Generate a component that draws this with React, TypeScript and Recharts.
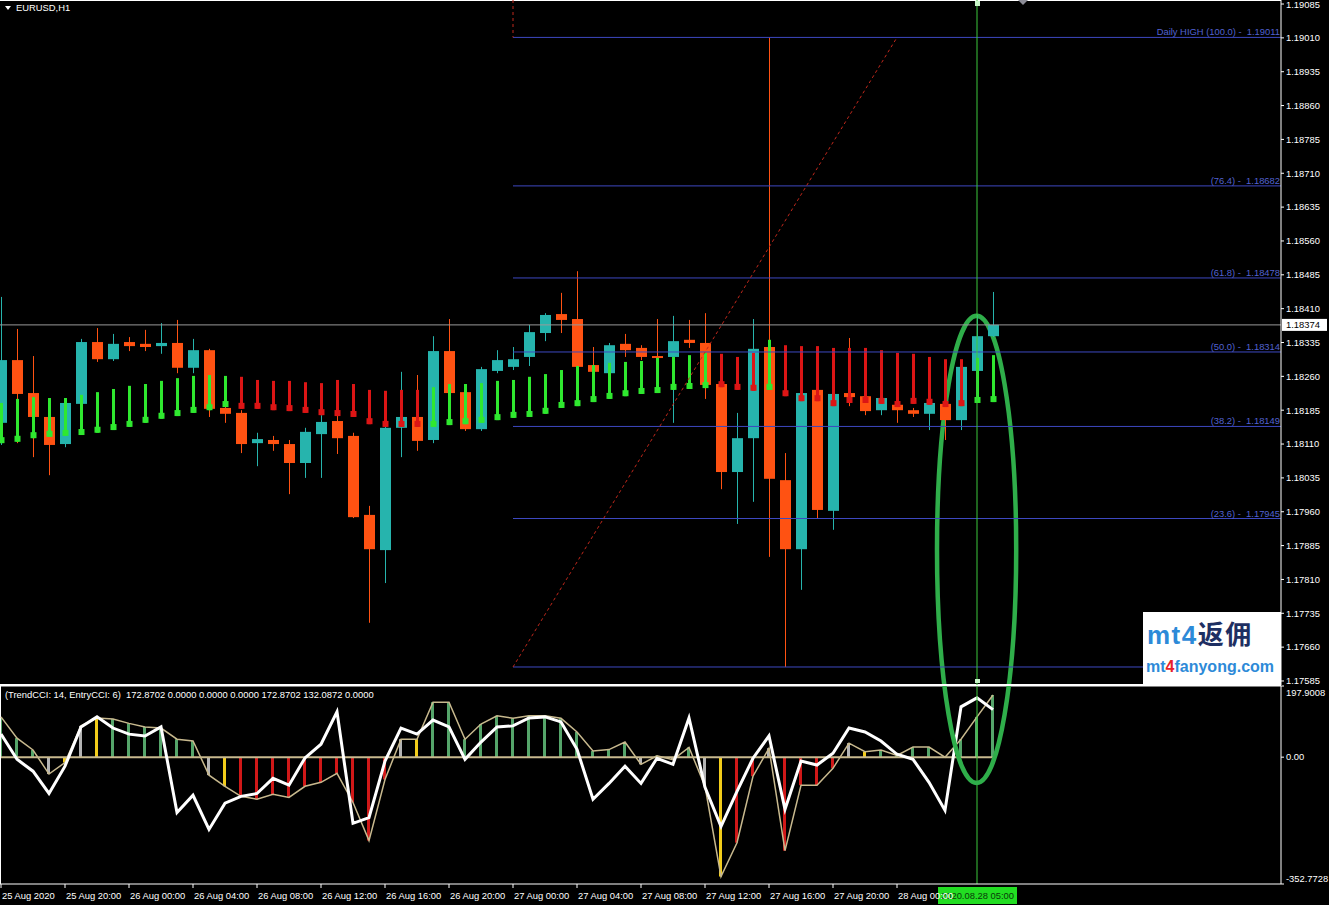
import React from "react";
import {
  ComposedChart,
  Bar,
  Line,
  XAxis,
  YAxis,
  ReferenceLine,
  ReferenceArea,
  ReferenceDot,
  Cell,
} from "recharts";

const FONT = "'Liberation Sans', Arial, sans-serif";
const FS = 9.4;

// ---------- categories (H1 bars from 25 Aug 2020 16:00) ----------
const barIndex = [
  0, 1, 2, 3, 4, 5, 6, 7, 8, 9, 10, 11, 12, 13, 14, 15, 16, 17, 18, 19, 20,
  21, 22, 23, 24, 25, 26, 27, 28, 29, 30, 31, 32, 33, 34, 35, 36, 37, 38, 39,
  40, 41, 42, 43, 44, 45, 46, 47, 48, 49, 50, 51, 52, 53, 54, 55, 56, 57, 58,
  59, 60, 61, 62,
];

// ---------- OHLC ----------
const opens = [
  1.18157, 1.18296, 1.18223, 1.1817, 1.1811, 1.18199, 1.18336, 1.18298, 1.18336, 1.18332,
  1.18327, 1.18334, 1.18279, 1.18318, 1.1819, 1.18179, 1.18112, 1.18119, 1.1811, 1.18068,
  1.18132, 1.18161, 1.18128, 1.17953, 1.17875, 1.18146, 1.1817, 1.18119, 1.18316, 1.18225,
  1.18143, 1.18272, 1.18281, 1.18303, 1.18356, 1.18398, 1.18387, 1.18285, 1.18267, 1.18332,
  1.18323, 1.18305, 1.18303, 1.18341, 1.18334, 1.18243, 1.18048, 1.18123, 1.18325, 1.1803,
  1.17877, 1.1823, 1.17962, 1.18223, 1.18216, 1.18185, 1.18197, 1.18185, 1.18177, 1.18199,
  1.18163, 1.18272, 1.18349,
];
const highs = [
  1.18436, 1.18365, 1.18305, 1.18185, 1.18208, 1.18343, 1.18367, 1.18354, 1.18347, 1.18363,
  1.18378, 1.18385, 1.18343, 1.18321, 1.18197, 1.18185, 1.18135, 1.18128, 1.18119, 1.18146,
  1.18174, 1.18174, 1.18135, 1.17973, 1.18152, 1.1827, 1.18263, 1.18349, 1.18387, 1.18234,
  1.18281, 1.18318, 1.18325, 1.18374, 1.184, 1.18445, 1.18493, 1.18325, 1.18334, 1.18354,
  1.18329, 1.18387, 1.18394, 1.18385, 1.184, 1.18252, 1.18179, 1.18387, 1.19011, 1.1809,
  1.1823, 1.18234, 1.18225, 1.18345, 1.18221, 1.18216, 1.18201, 1.1819, 1.18205, 1.18296,
  1.18292, 1.18396, 1.18447,
];
const lows = [
  1.18108, 1.18112, 1.18081, 1.18041, 1.18103, 1.18194, 1.18292, 1.18294, 1.18316, 1.18316,
  1.1831, 1.18267, 1.18267, 1.1817, 1.18157, 1.1809, 1.18061, 1.18095, 1.17999, 1.18035,
  1.18035, 1.18088, 1.17946, 1.17714, 1.17802, 1.18081, 1.18095, 1.18112, 1.18219, 1.18139,
  1.18139, 1.18267, 1.18274, 1.18283, 1.18338, 1.18356, 1.18276, 1.18265, 1.18263, 1.18303,
  1.18296, 1.18296, 1.18157, 1.18323, 1.1821, 1.1801, 1.17933, 1.17982, 1.1786, 1.17616,
  1.17787, 1.17946, 1.1792, 1.18194, 1.18174, 1.18174, 1.18157, 1.1817, 1.18141, 1.18119,
  1.18141, 1.18267, 1.18347,
];
const closes = [
  1.18296, 1.18221, 1.1817, 1.18108, 1.18201, 1.18336, 1.18298, 1.18332, 1.18327, 1.18325,
  1.18334, 1.18279, 1.18318, 1.18188, 1.18177, 1.1811, 1.18121, 1.1811, 1.18068, 1.18137,
  1.18159, 1.18123, 1.17948, 1.17877, 1.18146, 1.1817, 1.18117, 1.18316, 1.18223, 1.18143,
  1.18276, 1.18296, 1.18298, 1.18358, 1.18396, 1.18385, 1.18281, 1.1827, 1.18329, 1.18318,
  1.18303, 1.18301, 1.18338, 1.18334, 1.18241, 1.18048, 1.18123, 1.18321, 1.18033, 1.17877,
  1.18223, 1.17964, 1.18221, 1.18214, 1.18183, 1.18212, 1.18185, 1.18177, 1.18201, 1.18163,
  1.18281, 1.18349, 1.18374,
];

// ---------- trend bars on price chart ----------
const indTop = [
  1.18201, 1.1821, 1.18214, 1.18212, 1.18212, 1.18219, 1.18225, 1.18232, 1.18239, 1.18243,
  1.1825, 1.18256, 1.18261, 1.18263, 1.18261, 1.18259, 1.18252, 1.1825, 1.1825, 1.18247,
  1.18245, 1.18252, 1.18243, 1.1823, 1.18228, 1.1823, 1.1823, 1.18236, 1.18243, 1.18243,
  1.18245, 1.1825, 1.18252, 1.18259, 1.18265, 1.18274, 1.18283, 1.18285, 1.1829, 1.18292,
  1.18294, 1.18301, 1.18303, 1.18307, 1.18312, 1.1831, 1.18303, 1.18312, 1.18341, 1.18329,
  1.18327, 1.18327, 1.18323, 1.18323, 1.18323, 1.18318, 1.18312, 1.1831, 1.18303, 1.18298,
  1.18298, 1.18301, 1.18307,
];
const indBot = [
  1.18112, 1.18115, 1.18123, 1.18126, 1.18128, 1.1813, 1.18135, 1.18141, 1.18148, 1.18157,
  1.18166, 1.18172, 1.18179, 1.18185, 1.18192, 1.18188, 1.18188, 1.18185, 1.18183, 1.18179,
  1.18174, 1.18172, 1.1817, 1.18154, 1.18148, 1.18148, 1.18148, 1.18148, 1.18152, 1.18154,
  1.18157, 1.18163, 1.18168, 1.1817, 1.18177, 1.1819, 1.18194, 1.18203, 1.1821, 1.18216,
  1.18221, 1.18223, 1.1823, 1.18232, 1.18234, 1.18236, 1.1823, 1.18228, 1.1823, 1.18216,
  1.18205, 1.18205, 1.18194, 1.18201, 1.18201, 1.18199, 1.18192, 1.18199, 1.18197, 1.18192,
  1.18194, 1.18201, 1.18203,
];
const indDir = [
  "u", "u", "u", "u", "u", "u", "u", "u", "u", "u", "u", "u", "u", "u", "u",
  "d", "d", "d", "d", "d", "d", "d", "d", "d", "d", "d", "d",
  "u", "u", "u", "u", "u", "u", "u", "u", "u", "u", "u", "u", "u", "u", "u", "u", "u", "u",
  "d", "d", "d", "u",
  "d", "d", "d", "d", "d", "d", "d", "d", "d", "d", "d", "d",
  "u", "u",
];

// ---------- CCI panel ----------
const trendCci = [
  112, 53, 20, -47, -15, 87, 109, 106, 94, 84,
  81, 50, 45, -50, -81, -109, -117, -103, -112, -81,
  -70, -45, -126, -232, -62, 50, 50, 153, 153, 50,
  92, 115, 108, 115, 115, 108, 70, 17, 21, 42,
  -20, 4, -7, 27, -81, -332, -238, -53, 25, -260,
  -78, -78, -31, 39, 15, 20, 5, 28, 28, 0,
  50, 112, 172.8702,
];
const entryCci = [
  64, -6, -39, -101, -25, 84, 112, 81, 64, 59,
  84, -154, -106, -201, -128, -109, -101, -59, -78, -2,
  36, 126, -184, -168, -11, 81, 64, 103, 84, -6,
  42, 84, 87, 109, 112, 98, 22, -117, -73, -25,
  -73, -3, -20, 109, -84, -193, -95, -3, 59, -145,
  -11, -22, 11, 81, 70, 45, 8, -6, -70, -148,
  140, 165, 132.0872,
];
const histColor = [
  "g", "g", "g", "x", "y", "x", "y", "g", "g", "g",
  "g", "g", "g", "x", "y", "r", "r", "r", "r", "r",
  "r", "r", "r", "r", "r", "x", "y", "g", "g", "g",
  "g", "g", "g", "g", "g", "g", "g", "g", "g", "g",
  "x", "g", "x", "g", "x", "y", "r", "r", "x", "r",
  "r", "r", "r", "x", "y", "g", "g", "g", "g", "g",
  "g", "g", "g",
];

// ---------- axes / labels ----------
const priceTicks = [
  1.19085, 1.1901, 1.18935, 1.1886, 1.18785, 1.1871, 1.18635, 1.1856, 1.18485,
  1.1841, 1.18335, 1.1826, 1.18185, 1.1811, 1.18035, 1.1796, 1.17885, 1.1781,
  1.17735, 1.1766, 1.17585,
];
const timeTicks = [0, 4, 8, 12, 16, 20, 24, 28, 32, 36, 40, 44, 48, 52, 56];
const timeLabels = [
  "25 Aug 2020", "25 Aug 20:00", "26 Aug 00:00", "26 Aug 04:00", "26 Aug 08:00",
  "26 Aug 12:00", "26 Aug 16:00", "26 Aug 20:00", "27 Aug 00:00", "27 Aug 04:00",
  "27 Aug 08:00", "27 Aug 12:00", "27 Aug 16:00", "27 Aug 20:00", "28 Aug 00:00",
];
const cciTicks = [197.9008, 0, -352.7728];
const cciTickLabels = ["197.9008", "0.00", "-352.7728"];
const fibPrices = [1.19011, 1.18682, 1.18478, 1.18314, 1.18149, 1.17945, 1.17616];
const fibLabels = [
  "Daily HIGH (100.0) -  1.19011",
  "(76.4) -  1.18682",
  "(61.8) -  1.18478",
  "(50.0) -  1.18314",
  "(38.2) -  1.18149",
  "(23.6) -  1.17945",
  "Daily LOW (0.0) -  1.17616",
];
const fibStart = 32;
const fibEnd = 80;
const fibTrendFrom = 32;
const fibTrendTo = 56;
const cursorBar = 61;
const objectMarkerBar = 63.875;
const cursorLabel = "2020.08.28 05:00";
const ellipseBars = [58.5, 63.45];
const ellipsePrices = [1.17359, 1.18394];
const headerText =
  "(TrendCCI: 14, EntryCCI: 6)  172.8702 0.0000 0.0000 0.0000 172.8702 132.0872 0.0000";

const X_DOMAIN: [number, number] = [-0.0625, 80];
const PRICE_DOMAIN: [number, number] = [1.175761, 1.190939];
const CCI_DOMAIN: [number, number] = [-352.7728, 197.9008];

// ---------- colors ----------
const TEAL = "#26b4ad";
const ORANGE = "#ff5212";
const IND_GREEN = "#2fe82f";
const IND_RED = "#dc1515";
const FIB = "#3d48c0";
const FIB_TEXT = "#5262d0";
const VLINE = "#3cc83c";
const ELLIPSE = "#2fae4a";
const KHAKI = "#c8b98e";
const HIST: Record<string, string> = {
  g: "#55a56a",
  r: "#d01818",
  y: "#f2cc1a",
  x: "#b4b4b4",
};

const mainData = barIndex.map((i, k) => ({
  i,
  open: opens[k],
  high: highs[k],
  low: lows[k],
  close: closes[k],
  indTop: indTop[k],
  indBot: indBot[k],
  indDir: indDir[k],
}));
const cciData = barIndex.map((i, k) => ({
  i,
  trend: trendCci[k],
  entry: entryCci[k],
  col: histColor[k],
}));

function Candle(props: any) {
  const { x, y, width, height, payload } = props;
  if (!payload || width == null) return null;
  const top = Math.min(y, y + height);
  const h = Math.abs(height);
  const span = payload.high - payload.low || 1e-9;
  const px = (v: number) => top + ((payload.high - v) / span) * h;
  const cx = Math.round(x + width / 2);
  const up = payload.close >= payload.open;
  const color = up ? TEAL : ORANGE;
  const bTop = px(Math.max(payload.open, payload.close));
  const bBot = px(Math.min(payload.open, payload.close));
  return (
    <g>
      <rect x={cx} y={top} width={1} height={h} fill={color} />
      <rect x={cx - 5} y={bTop} width={11} height={Math.max(2, bBot - bTop)} fill={color} />
    </g>
  );
}

function TrendBar(props: any) {
  const { x, y, width, height, payload } = props;
  if (!payload || width == null) return null;
  const top = Math.min(y, y + height);
  const h = Math.abs(height);
  const cx = Math.round(x + width / 2) + 0.5;
  const c = payload.indDir === "u" ? IND_GREEN : IND_RED;
  return (
    <g>
      <rect x={cx - 1.5} y={top} width={3} height={h} fill={c} />
      <rect x={cx - 3} y={top + h - 6} width={6} height={6} fill={c} />
    </g>
  );
}

function FibText(props: any) {
  const { viewBox, text } = props;
  if (!viewBox) return null;
  return (
    <text
      x={viewBox.x + viewBox.width - 1}
      y={viewBox.y - 2}
      textAnchor="end"
      fill={FIB_TEXT}
      fontSize={FS}
      fontFamily={FONT}
      style={{ whiteSpace: "pre" }}
    >
      {text}
    </text>
  );
}

function PriceTag(props: any) {
  const { viewBox, text } = props;
  if (!viewBox) return null;
  const x0 = viewBox.x + viewBox.width + 1;
  return (
    <g>
      <rect x={x0} y={viewBox.y - 6} width={45} height={12} fill="#ffffff" />
      <text x={x0 + 4} y={viewBox.y + 3.5} fill="#000" fontSize={FS} fontFamily={FONT}>
        {text}
      </text>
    </g>
  );
}

function TimeTag(props: any) {
  const { viewBox, text } = props;
  if (!viewBox) return null;
  const cx = viewBox.x;
  const yb = viewBox.y + viewBox.height + 3;
  return (
    <g>
      <rect x={cx - 39} y={yb} width={79} height={17} fill="#22dd22" />
      <text x={cx + 0.5} y={yb + 12} textAnchor="middle" fill="#0a3a0a" fontSize={FS} fontFamily={FONT}>
        {text}
      </text>
    </g>
  );
}

function PriceTick(props: any) {
  const { x, y, payload, index } = props;
  const shift = index === 0 ? 1 : 0;
  return (
    <text x={x} y={y + shift} dy="0.355em" fill="#fff" fontSize={FS} fontFamily={FONT}>
      {Number(payload.value).toFixed(5)}
    </text>
  );
}

function TimeTick(props: any) {
  const { x, y, payload } = props;
  const k = timeTicks.indexOf(payload.value);
  if (k < 0) return null;
  return (
    <text x={x + 1} y={y + 9} fill="#fff" fontSize={FS} fontFamily={FONT}>
      {timeLabels[k]}
    </text>
  );
}

function CciTick(props: any) {
  const { x, y, payload } = props;
  const k = cciTicks.indexOf(payload.value);
  if (k < 0) return null;
  const shift = k === 0 ? 7 : k === 2 ? -5 : 0;
  return (
    <text x={x} y={y + shift} dy="0.355em" fill="#fff" fontSize={FS} fontFamily={FONT}>
      {cciTickLabels[k]}
    </text>
  );
}

export default function App() {
  const lastClose = closes[closes.length - 1];
  return (
    <div
      style={{
        position: "fixed",
        left: 0,
        top: 0,
        width: 1329,
        height: 905,
        background: "#000",
        overflow: "hidden",
        fontFamily: FONT,
      }}
    >
      <style>{".mainchart .recharts-surface{overflow:visible}"}</style>

      {/* price panel */}
      <div className="mainchart" style={{ position: "absolute", left: 0, top: 0, zIndex: 2 }}>
        <ComposedChart width={1329} height={685} data={mainData} margin={{ top: 0, right: 0, bottom: 0, left: 0 }}>
          <XAxis dataKey="i" type="number" domain={X_DOMAIN} hide allowDataOverflow />
          <XAxis xAxisId="ind" dataKey="i" type="number" domain={X_DOMAIN} hide allowDataOverflow />
          <YAxis
            orientation="right"
            width={48}
            domain={PRICE_DOMAIN}
            allowDataOverflow
            ticks={priceTicks}
            interval={0}
            tick={<PriceTick />}
            tickLine={{ stroke: "#fff" }}
            tickSize={3}
            tickMargin={2}
            axisLine={{ stroke: "#fff" }}
          />
          {/* frame */}
          <ReferenceLine y={PRICE_DOMAIN[1]} stroke="#fff" strokeWidth={2} />
          <ReferenceLine y={PRICE_DOMAIN[0]} stroke="#fff" strokeWidth={2} />

          {/* fibonacci */}
          {fibPrices.map((p, k) => (
            <ReferenceLine
              key={"fib" + k}
              segment={[
                { x: fibStart, y: p },
                { x: fibEnd, y: p },
              ]}
              stroke={FIB}
              strokeWidth={1}
              label={<FibText text={fibLabels[k]} />}
            />
          ))}
          <ReferenceLine
            segment={[
              { x: fibTrendFrom, y: fibPrices[6] },
              { x: fibTrendTo, y: fibPrices[0] },
            ]}
            stroke="#c0281c"
            strokeDasharray="3 3"
          />
          <ReferenceLine
            segment={[
              { x: fibTrendFrom, y: PRICE_DOMAIN[1] },
              { x: fibTrendFrom, y: fibPrices[0] },
            ]}
            stroke="#c0281c"
            strokeDasharray="3 3"
          />

          {/* current price */}
          <ReferenceLine y={lastClose} stroke="#9a9a9a" label={<PriceTag text={lastClose.toFixed(5)} />} />

          <Bar dataKey={(d: any) => [d.low, d.high]} barSize={11} shape={<Candle />} isAnimationActive={false} />
          <Bar
            xAxisId="ind"
            dataKey={(d: any) => [d.indBot, d.indTop]}
            barSize={6}
            shape={<TrendBar />}
            isAnimationActive={false}
          />

          {/* cursor line & markers */}
          <ReferenceLine x={cursorBar} stroke={VLINE} />
          <ReferenceDot
            x={cursorBar}
            y={PRICE_DOMAIN[1]}
            ifOverflow="visible"
            shape={(p: any) => <rect x={p.cx - 2} y={p.cy + 1} width={5} height={5} fill="#c8f5c8" />}
          />
          <ReferenceDot
            x={cursorBar}
            y={PRICE_DOMAIN[0]}
            ifOverflow="visible"
            shape={(p: any) => <rect x={p.cx - 2} y={p.cy - 6} width={5} height={4} fill="#c8f5c8" />}
          />
          <ReferenceDot
            x={objectMarkerBar}
            y={PRICE_DOMAIN[1]}
            ifOverflow="visible"
            shape={(p: any) => (
              <polygon
                points={`${p.cx - 5},${p.cy} ${p.cx + 5},${p.cy} ${p.cx},${p.cy + 5}`}
                fill="#8c8c96"
              />
            )}
          />
          <ReferenceArea
            x1={ellipseBars[0]}
            x2={ellipseBars[1]}
            y1={ellipsePrices[0]}
            y2={ellipsePrices[1]}
            ifOverflow="visible"
            shape={(p: any) => (
              <ellipse
                cx={p.x + p.width / 2}
                cy={p.y + p.height / 2}
                rx={Math.abs(p.width) / 2}
                ry={Math.abs(p.height) / 2}
                fill="none"
                stroke={ELLIPSE}
                strokeWidth={4.5}
              />
            )}
          />
        </ComposedChart>
      </div>

      {/* CCI panel */}
      <div style={{ position: "absolute", left: 0, top: 685, zIndex: 1 }}>
        <ComposedChart width={1329} height={220} data={cciData} margin={{ top: 1, right: 0, bottom: 0, left: 0 }}>
          <XAxis
            dataKey="i"
            type="number"
            domain={X_DOMAIN}
            allowDataOverflow
            ticks={timeTicks}
            interval={0}
            height={21}
            tick={<TimeTick />}
            tickLine={{ stroke: "#fff" }}
            tickSize={4}
            axisLine={{ stroke: "#fff" }}
          />
          <YAxis
            orientation="right"
            width={48}
            domain={CCI_DOMAIN}
            allowDataOverflow
            ticks={cciTicks}
            interval={0}
            tick={<CciTick />}
            tickLine={{ stroke: "#fff" }}
            tickSize={3}
            tickMargin={2}
            axisLine={{ stroke: "#fff" }}
          />
          <ReferenceLine y={CCI_DOMAIN[1]} stroke="#fff" strokeWidth={1} />
          <ReferenceLine x={X_DOMAIN[0]} stroke="#fff" strokeWidth={2} />
          <ReferenceLine
            segment={[
              { x: barIndex[0], y: 0 },
              { x: barIndex[barIndex.length - 1], y: 0 },
            ]}
            stroke={KHAKI}
            strokeWidth={2}
          />
          <Bar dataKey="trend" barSize={3} isAnimationActive={false}>
            {cciData.map((d, k) => (
              <Cell key={k} fill={HIST[d.col]} />
            ))}
          </Bar>
          <Line dataKey="trend" type="linear" stroke={KHAKI} strokeWidth={1.5} dot={false} isAnimationActive={false} />
          <Line dataKey="entry" type="linear" stroke="#ffffff" strokeWidth={3} dot={false} isAnimationActive={false} />
          <ReferenceLine x={cursorBar} stroke={VLINE} label={<TimeTag text={cursorLabel} />} />
        </ComposedChart>
      </div>

      {/* overlays: title, indicator header, watermark */}
      <div style={{ position: "absolute", left: 0, top: 0, width: 1329, height: 905, zIndex: 3, pointerEvents: "none" }}>
        <div
          style={{
            position: "absolute",
            left: 5,
            top: 6,
            width: 0,
            height: 0,
            borderLeft: "3.5px solid transparent",
            borderRight: "3.5px solid transparent",
            borderTop: "4px solid #fff",
          }}
        />
        <div style={{ position: "absolute", left: 16, top: 2, color: "#fff", fontSize: FS, lineHeight: "12px" }}>
          EURUSD,H1
        </div>
        <div
          style={{
            position: "absolute",
            left: 5,
            top: 689,
            color: "#fff",
            fontSize: FS,
            lineHeight: "12px",
            whiteSpace: "pre",
          }}
        >
          {headerText}
        </div>
        <div
          style={{
            position: "absolute",
            left: 1143,
            top: 612,
            width: 138,
            height: 72,
            background: "#fff",
          }}
        >
          <div
            style={{
              position: "absolute",
              left: 4,
              top: 5,
              fontSize: 26,
              lineHeight: "32px",
              fontWeight: 700,
              whiteSpace: "nowrap",
              letterSpacing: 1.5,
            }}
          >
            <span style={{ color: "#2d8ad8", fontFamily: FONT }}>mt4</span>
            <span style={{ color: "#1e2f62", fontFamily: "'Noto Sans CJK SC', sans-serif" }}>返佣</span>
          </div>
          <div
            style={{
              position: "absolute",
              left: 3,
              top: 46,
              fontSize: 16,
              lineHeight: "18px",
              fontWeight: 700,
              whiteSpace: "nowrap",
              fontFamily: FONT,
              color: "#2d8ad8",
            }}
          >
            mt<span style={{ color: "#e8202a" }}>4</span>fanyong.com
          </div>
        </div>
      </div>
    </div>
  );
}
